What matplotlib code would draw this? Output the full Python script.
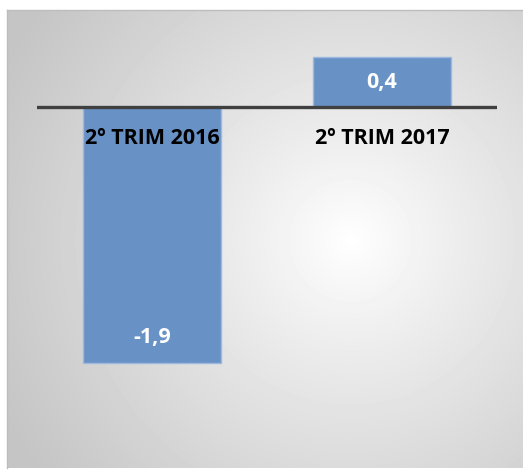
import matplotlib
import matplotlib.pyplot as plt
import numpy as np

matplotlib.use("Agg")

categories = ["2º TRIM 2016", "2º TRIM 2017"]
values = [-1.9, 0.37]
labels = ["-1,9", "0,4"]

W, H = 523, 471
fig = plt.figure(figsize=(W / 100, H / 100), dpi=100)

# background panel with radial gradient
bg = fig.add_axes([7 / W, 1 - 468 / H, (W - 7) / W, 458 / H])
yy, xx = np.mgrid[10:468, 7:W]
dist = np.hypot(xx - 350, yy - 240)
shade = 1 - np.clip(dist / 390, 0, 1) ** 0.9 * 0.23
bg.imshow(shade, cmap="gray", vmin=0, vmax=1, aspect="auto",
          extent=[0, 1, 0, 1], interpolation="bilinear")
bg.set_xticks([])
bg.set_yticks([])
for side, sp in bg.spines.items():
    sp.set_visible(side in ("left", "top"))
    sp.set_color("#bdbdbd")
    sp.set_linewidth(1)

# chart area: x 37..497 px, y 20..460 px, zero at 107 px
px_per_unit = 134.7
top, bot, zero = 20, 460, 107
ax = fig.add_axes([37 / W, 1 - bot / H, 460 / W, (bot - top) / H])
ax.set_facecolor("none")
x = np.arange(len(categories))
ax.bar(x, values, width=0.6, color="#6892c6", edgecolor="#9db9df",
       linewidth=1, zorder=2)
ax.axhline(0, color="#404040", linewidth=2.4, zorder=3)
ax.set_xlim(-0.5, 1.5)
ax.set_ylim(-(bot - zero) / px_per_unit, (zero - top) / px_per_unit)
ax.axis("off")

font = ["Open Sans", "DejaVu Sans"]
for xi, v, lab in zip(x, values, labels):
    ax.annotate(lab, (xi, v), xytext=(0, 18.5 if v < 0 else -18.5),
                textcoords="offset points", ha="center", va="center",
                color="white", fontsize=15.5, fontweight="bold", family=font,
                zorder=4)
    ax.annotate(categories[xi], (xi, 0), xytext=(0, -22.5),
                textcoords="offset points", ha="center", va="center",
                color="black", fontsize=15.5, fontweight="bold", family=font,
                zorder=4)

fig.savefig("out.png", dpi=100)
